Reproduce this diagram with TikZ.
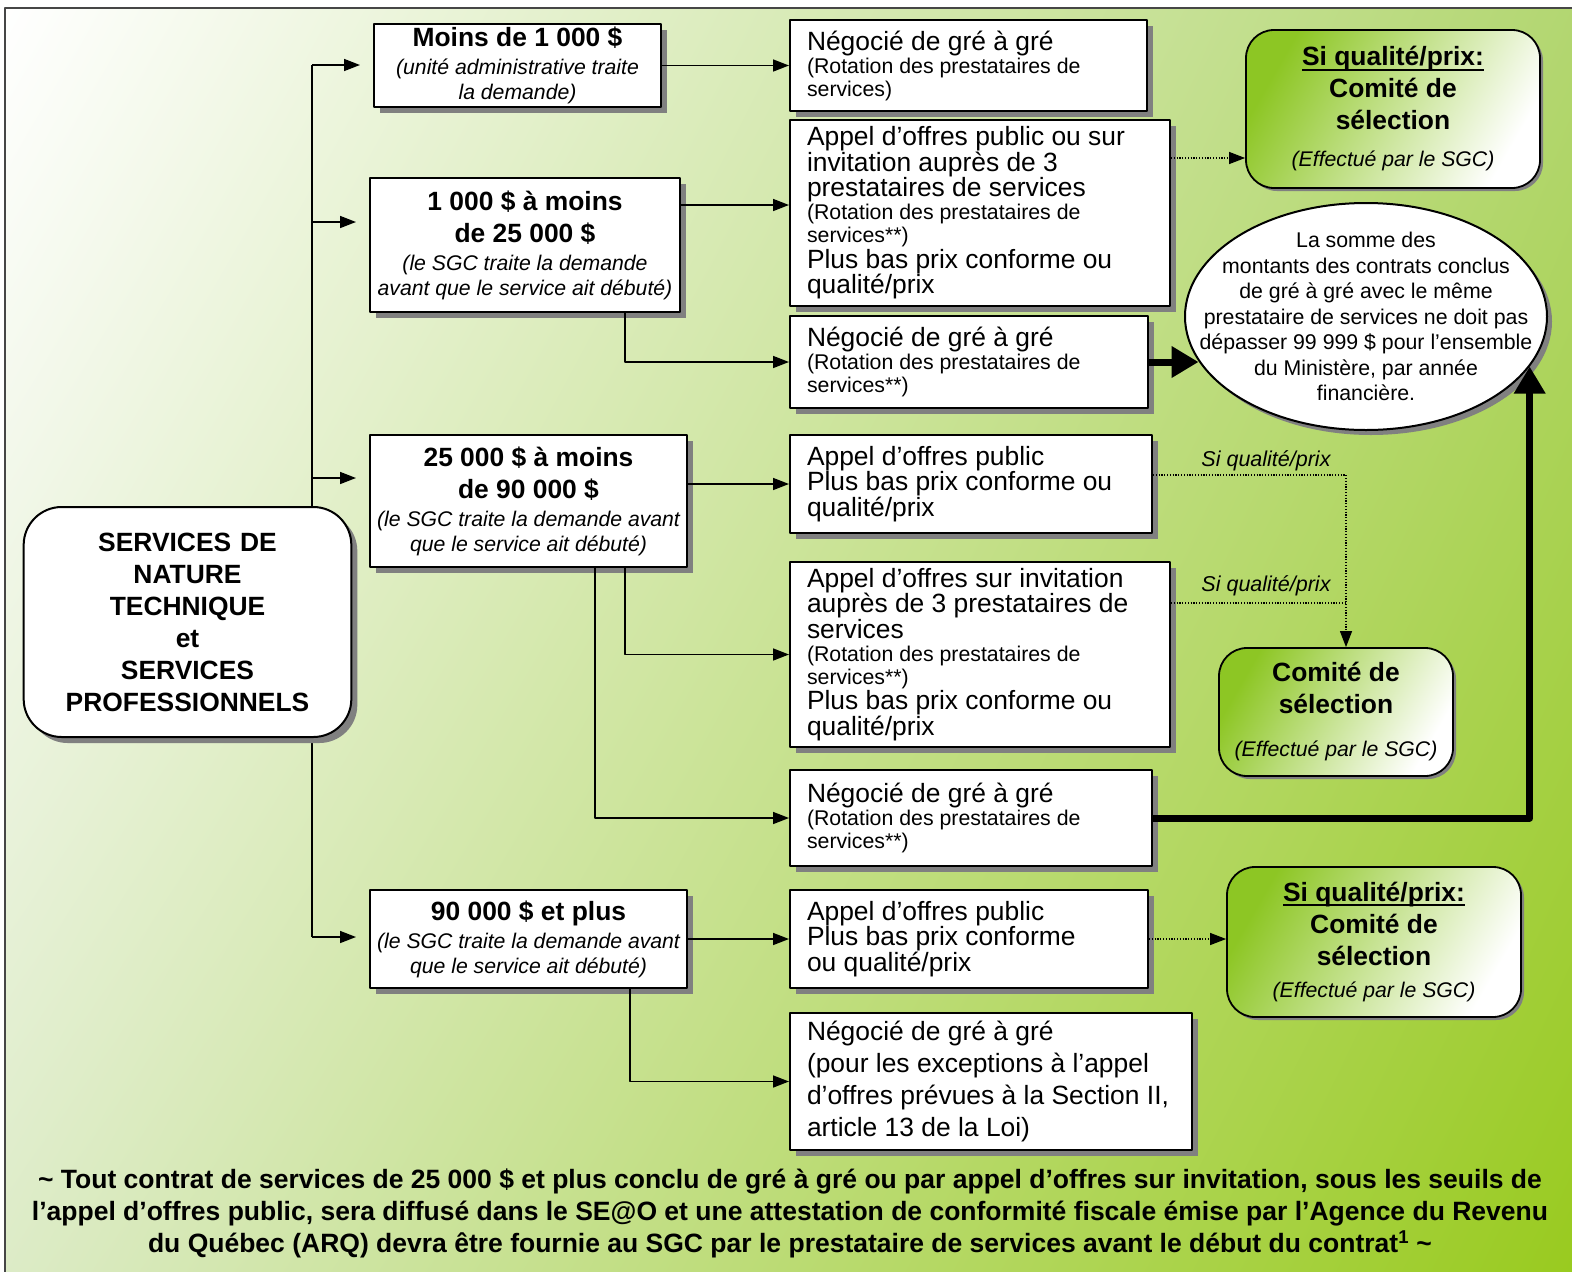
\documentclass[tikz,border=0pt]{standalone}
\usepackage{fontspec}
\setmainfont{Liberation Sans}
\usetikzlibrary{arrows.meta,shadows,shadings,shapes.geometric}
\setlength{\lineskiplimit}{-20pt}
\newcommand\nosq{\spaceskip=\fontdimen2\font\xspaceskip=\fontdimen2\font\relax}
\newcommand\ftitle{\fontsize{26.4}{32}\bfseries\selectfont\nosq}
\newcommand\fsub{\fontsize{21.2}{25}\itshape\selectfont\nosq}
\newcommand\fbody{\fontsize{26.4}{25.5}\selectfont\nosq}
\newcommand\fwide{\fontsize{26.4}{32}\selectfont\nosq}
\newcommand\fsmall{\fontsize{21.3}{23}\selectfont\nosq}
\newcommand\foval{\fontsize{21.3}{25.5}\selectfont\nosq}
\newcommand\fnote{\fontsize{26.5}{32}\bfseries\selectfont\nosq}
\newcommand\flab{\fontsize{21.5}{25}\itshape\selectfont\nosq}
\newcommand\thickul[1]{\setbox0\hbox{#1}\rlap{\rule[-5pt]{\wd0}{2pt}}\box0}
\definecolor{comitegreen}{RGB}{141,198,36}
\definecolor{shadowgray}{RGB}{128,128,128}
\definecolor{bgtr}{RGB}{178,214,112}
\definecolor{bgbl}{RGB}{220,235,198}
\definecolor{bgbr}{RGB}{152,202,28}
\definecolor{framegray}{RGB}{70,70,70}
\begin{document}
\begin{tikzpicture}[x=1pt,y=-1pt,line join=round,>={Triangle[length=16pt,width=12pt]},
	tier/.style={draw,line width=2pt,fill=white,align=center,inner sep=2pt,
		drop shadow={shadow xshift=6pt,shadow yshift=-6pt,fill=shadowgray,opacity=1}},
	opt/.style={draw,line width=2pt,fill=white,align=left,inner xsep=17pt,inner ysep=2pt,
		drop shadow={shadow xshift=6pt,shadow yshift=-6pt,fill=shadowgray,opacity=1}},
	root/.style={draw,line width=2pt,fill=white,rounded corners=38pt,align=center,font=\ftitle,
		drop shadow={shadow xshift=6pt,shadow yshift=-6pt,fill=shadowgray,opacity=1}},
	comite/.style={draw,line width=1.8pt,rounded corners=28pt,top color=comitegreen,bottom color=white,
		shading angle=60,align=center,inner sep=4pt,
		drop shadow={shadow xshift=3pt,shadow yshift=-3pt,fill=shadowgray,opacity=1}},
	oval/.style={draw,line width=2pt,fill=white,ellipse,inner sep=0pt,
		drop shadow={shadow xshift=5pt,shadow yshift=-5pt,fill=shadowgray,opacity=1}},
	lab/.style={font=\flab,inner sep=1pt},
	arr/.style={->,line width=1.6pt},
	dotarr/.style={->,line width=1.2pt,dash pattern=on 1.2pt off 1.6pt},
	bigarr/.style={-{Triangle[length=27pt,width=30pt]},line width=7pt}]
	\useasboundingbox (0,0) rectangle (1572,1272);
	% background and frame
	\shade[upper left=white,upper right=bgtr,lower left=bgbl,lower right=bgbr] (5,8) rectangle (1590,1290);
	\draw[line width=1.5pt,framegray] (5,8) rectangle (1590,1290);
	% trunk
	\path
	(312,65) coordinate (tA)
	(312,222) coordinate (tB)
	(312,478) coordinate (tC)
	(312,937) coordinate (tD)
	;
	\draw[line width=1.6pt] (tA)--(tD);
	\node[root,minimum width=325pt,minimum height=230pt,text width=321pt] (root) at (187.5,622)
		{SERVICES DE\\NATURE\\TECHNIQUE\\et\\SERVICES\\PROFESSIONNELS};
	% amounts
	\node[tier,minimum width=287pt,minimum height=83pt,text width=283pt] (boxA) at (517.5,65.5)
		{{\ftitle Moins de 1 000 \$\par}\vspace{3pt}{\fsub (unité administrative traite\\la demande)\par}};
	\node[tier,minimum width=310pt,minimum height=134pt,text width=306pt] (boxB) at (525,245)
		{{\ftitle 1 000 \$ à moins\\de 25 000 \$\par}\vspace{3pt}{\fsub (le SGC traite la demande\\avant que le service ait débuté)\par}};
	\node[tier,minimum width=317pt,minimum height=132pt,text width=313pt] (boxC) at (528.5,501)
		{{\ftitle 25 000 \$ à moins\\de 90 000 \$\par}\vspace{3pt}{\fsub (le SGC traite la demande avant\\que le service ait débuté)\par}};
	\node[tier,minimum width=317pt,minimum height=98pt,text width=313pt] (boxD) at (528.5,939)
		{{\ftitle 90 000 \$ et plus\par}\vspace{3pt}{\fsub (le SGC traite la demande avant\\que le service ait débuté)\par}};
	% procedures
	\node[opt,minimum width=357pt,minimum height=91pt,text width=323pt] (R1) at (968.5,65.5)
		{{\fbody Négocié de gré à gré\par}{\fsmall (Rotation des prestataires de\\services)\par}};
	\node[opt,minimum width=380pt,minimum height=186pt,text width=346pt] (R2) at (980,213)
		{{\fbody Appel d’offres public ou sur\\invitation auprès de 3\\prestataires de services\par}{\fsmall (Rotation des prestataires de\\services**)\par}{\fbody Plus bas prix conforme ou\\qualité/prix\par}};
	\node[opt,minimum width=358pt,minimum height=92pt,text width=324pt] (R3) at (969,362)
		{{\fbody Négocié de gré à gré\par}{\fsmall (Rotation des prestataires de\\services**)\par}};
	\node[opt,minimum width=362pt,minimum height=98pt,text width=328pt] (R4) at (971,484)
		{{\fbody Appel d’offres public\\Plus bas prix conforme ou\\qualité/prix\par}};
	\node[opt,minimum width=380pt,minimum height=185pt,text width=346pt] (R5) at (980,654.5)
		{{\fbody Appel d’offres sur invitation\\auprès de 3 prestataires de\\services\par}{\fsmall (Rotation des prestataires de\\services**)\par}{\fbody Plus bas prix conforme ou\\qualité/prix\par}};
	\node[opt,minimum width=362pt,minimum height=96pt,text width=328pt] (R6) at (971,818)
		{{\fbody Négocié de gré à gré\par}{\fsmall (Rotation des prestataires de\\services**)\par}};
	\node[opt,minimum width=358pt,minimum height=98pt,text width=324pt] (R7) at (969,939)
		{{\fbody Appel d’offres public\\Plus bas prix conforme\\ou qualité/prix\par}};
	\node[opt,minimum width=402pt,minimum height=137pt,text width=368pt] (R8) at (991,1081.5)
		{{\fwide Négocié de gré à gré\\(pour les exceptions à l’appel\\d’offres prévues à la Section II,\\article 13 de la Loi)\par}};
	% committees
	\node[comite,minimum width=294pt,minimum height=158pt,text width=286pt] (G1) at (1393,109)
		{{\ftitle\thickul{Si qualité/prix:}\\Comité de\\sélection\par}\vspace{12pt}{\fsub (Effectué par le SGC)\par}};
	\node[comite,minimum width=234pt,minimum height=128pt,text width=226pt] (G2) at (1336,712)
		{{\ftitle Comité de\\sélection\par}\vspace{18pt}{\fsub (Effectué par le SGC)\par}};
	\node[comite,minimum width=294pt,minimum height=150pt,text width=286pt] (G3) at (1374,942)
		{{\ftitle\thickul{Si qualité/prix:}\\Comité de\\sélection\par}\vspace{7pt}{\fsub (Effectué par le SGC)\par}};
	\node[oval,minimum width=362pt,minimum height=227pt] (E) at (1366,316.5) {};
	\node[font=\foval,align=center] (Etext) at (E.center)
		{La somme des\\montants des contrats conclus\\de gré à gré avec le même\\prestataire de services ne doit pas\\dépasser 99 999 \$ pour l’ensemble\\du Ministère, par année\\financière.};
	% connectors
	\foreach \t/\b in {tA/boxA,tB/boxB,tC/boxC,tD/boxD}
	\draw[arr,shorten >=13pt] (\t) -- (\t -| \b.west);
	\draw[arr] (boxA.east) -- (boxA.east -| R1.west);
	\draw[arr] (boxB.east |- 0,205) -- (R2.west |- 0,205);
	\draw[arr] ([xshift=100pt]boxB.south) |- (R3.west);
	\draw[arr] (boxC.east |- R4.west) -- (R4.west);
	\draw[arr] ([xshift=96.5pt]boxC.south) |- (R5.west);
	\draw[arr] ([xshift=66.5pt]boxC.south) |- (R6.west);
	\draw[arr] (boxD.east) -- (R7.west);
	\draw[arr] ([xshift=101.5pt]boxD.south) |- (R8.west);
	\draw[dotarr] (R2.east |- 0,158) -- (G1.west |- 0,158);
	\coordinate (jn) at ([xshift=10pt]G2.north |- 0,603);
	\draw[dotarr] (R4.east |- 0,475) -| ([xshift=10pt]G2.north);
	\draw[dotarr,-] (R5.east |- jn) -- (jn);
	\draw[dotarr] (R7.east) -- (G3.west |- R7.east);
	\node[lab] (lab1) at (1266,461) {Si qualité/prix};
	\node[lab] (lab2) at (1266,586) {Si qualité/prix};
	\draw[bigarr] (R3.east) -- (E.195 |- R3.east);
	\draw[bigarr] (R6.east) -| (E.-17);
	% note
	\node[font=\fnote,align=center] (note) at (790,1213)
		{\textasciitilde{} Tout contrat de services de 25 000 \$ et plus conclu de gré à gré ou par appel d’offres sur invitation, sous les seuils de\\l’appel d’offres public, sera diffusé dans le SE@O et une attestation de conformité fiscale émise par l’Agence du Revenu\\du Québec (ARQ) devra être fournie au SGC par le prestataire de services avant le début du contrat\textsuperscript{1} \textasciitilde};
\end{tikzpicture}
\end{document}
